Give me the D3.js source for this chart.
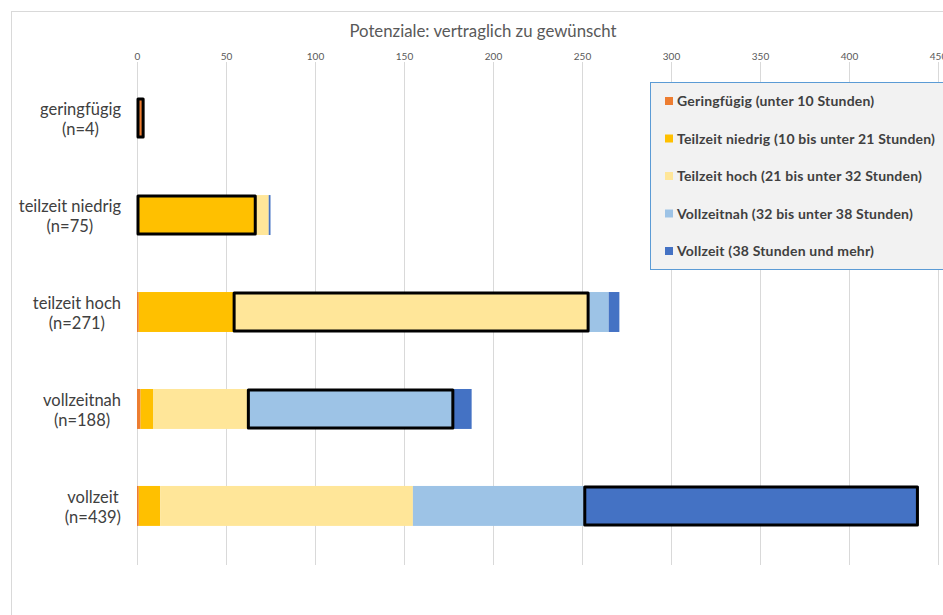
<!DOCTYPE html>
<html><head><meta charset="utf-8">
<script src="https://cdn.jsdelivr.net/npm/d3@7"></script>
<style>html,body{margin:0;padding:0;background:#fff;overflow:hidden}</style>
</head><body>
<svg id="chart" width="943" height="615"></svg>
<script>
const titleText = "Potenziale: vertraglich zu gewünscht";
const categories = ["geringfügig", "teilzeit niedrig", "teilzeit hoch", "vollzeitnah", "vollzeit"];
const categoryN = ["(n=4)", "(n=75)", "(n=271)", "(n=188)", "(n=439)"];
const seriesNames = [
  "Geringfügig (unter 10 Stunden)",
  "Teilzeit niedrig (10 bis unter 21 Stunden)",
  "Teilzeit hoch (21 bis unter 32 Stunden)",
  "Vollzeitnah (32 bis unter 38 Stunden)",
  "Vollzeit (38 Stunden und mehr)"
];
const seriesColors = ["#ED7D31", "#FFC000", "#FFE699", "#9DC3E6", "#4472C4"];
const geringfuegig    = [4, 0, 1, 2, 1];
const teilzeitNiedrig = [0, 67, 53, 7, 12];
const teilzeitHoch    = [0, 7, 200, 53, 142];
const vollzeitnah     = [0, 0, 11, 116, 96];
const vollzeit        = [0, 1, 6, 10, 188];
const tickValues = [0, 50, 100, 150, 200, 250, 300, 350, 400, 450];

const seriesValues = [geringfuegig, teilzeitNiedrig, teilzeitHoch, vollzeitnah, vollzeit];
const rows = categories.map((c, i) => {
  const r = {cat: c};
  seriesNames.forEach((s, j) => r[s] = seriesValues[j][i]);
  return r;
});

const FONT = "Lato, 'Open Sans', sans-serif";
const svg = d3.select("#chart");

// frame
svg.append("line").attr("x1", 11.5).attr("x2", 11.5).attr("y1", 11).attr("y2", 615).attr("stroke", "#d9d9d9");
svg.append("line").attr("x1", 11).attr("x2", 943).attr("y1", 11.5).attr("y2", 11.5).attr("stroke", "#d9d9d9");

const x = d3.scaleLinear().domain([0, 450]).range([137, 938]);
const y = d3.scaleBand().domain(categories).range([69, 555]).paddingInner(0.588).paddingOuter(0.3);

// title
svg.append("text").attr("x", 483).attr("y", 37).attr("text-anchor", "middle")
  .attr("font-family", FONT).attr("font-size", 16.8).attr("fill", "#595959").text(titleText);

// grid
svg.append("g").selectAll("line").data(tickValues).join("line")
  .attr("x1", d => Math.round(x(d)) + 0.5).attr("x2", d => Math.round(x(d)) + 0.5)
  .attr("y1", 62).attr("y2", 565).attr("stroke", "#d9d9d9");

// top axis labels
const axis = d3.axisTop(x).tickValues(tickValues).tickSize(0).tickPadding(0);
const ag = svg.append("g").attr("transform", "translate(0,60)").call(axis);
ag.select(".domain").remove();
ag.selectAll("text").attr("font-family", FONT).attr("font-size", 10).attr("fill", "#595959").attr("dy", "0");

// stacked bars
const stack = d3.stack().keys(seriesNames)(rows);
const barG = svg.append("g");
stack.forEach((layer, j) => {
  barG.append("g").attr("fill", seriesColors[j]).selectAll("rect").data(layer).join("rect")
    .attr("x", d => x(d[0])).attr("width", d => Math.max(0, x(d[1]) - x(d[0])))
    .attr("y", d => y(d.data.cat)).attr("height", y.bandwidth());
});
// outlined "contract == desired" segment
const outline = categories.map((c, i) => stack[i][i]);
svg.append("g").selectAll("rect").data(outline).join("rect")
  .attr("x", d => x(d[0]) + 1).attr("width", d => x(d[1]) - x(d[0]) - 2)
  .attr("y", d => y(d.data.cat) + 1).attr("height", y.bandwidth() - 2)
  .attr("fill", "none").attr("stroke", "#000").attr("stroke-width", 3).attr("stroke-linejoin", "round");

// category labels
const labG = svg.append("g");
categories.forEach((c, i) => {
  const cy = y(c) + y.bandwidth() / 2;
  const g = labG.append("g");
  const t1 = g.append("text").attr("y", cy - 3).text(c);
  const t2 = g.append("text").attr("y", cy + 17).text(categoryN[i]);
  g.selectAll("text").attr("font-family", FONT).attr("font-size", 16.5).attr("fill", "#404040").attr("text-anchor", "middle");
  const w = Math.max(t1.node().getComputedTextLength(), t2.node().getComputedTextLength());
  g.selectAll("text").attr("x", 121 - w / 2);
});

// legend
const lg = svg.append("g");
lg.append("rect").attr("x", 650.5).attr("y", 82.5).attr("width", 320).attr("height", 187)
  .attr("fill", "#f2f2f2").attr("stroke", "#5B9BD5");
seriesNames.forEach((s, j) => {
  const cy = 101 + j * 37.5;
  lg.append("rect").attr("x", 665).attr("y", cy - 4).attr("width", 8).attr("height", 8).attr("fill", seriesColors[j]);
  lg.append("text").attr("x", 677).attr("y", cy + 5).attr("font-family", FONT).attr("font-size", 14)
    .attr("letter-spacing", 0.2).attr("font-weight", "bold").attr("fill", "#404040").text(s);
});
</script>
</body></html>
